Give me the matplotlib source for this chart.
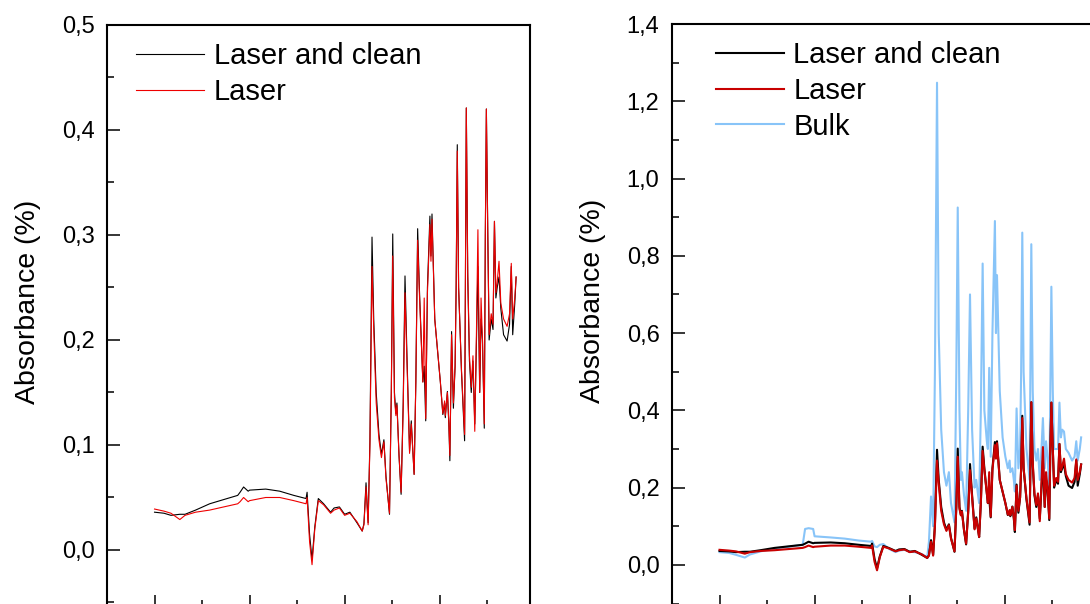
import matplotlib.pyplot as plt
from matplotlib.ticker import MultipleLocator

plt.rcParams["font.family"] = ["Liberation Sans", "DejaVu Sans"]

# spectra (x in wavenumber-like units)
WAVENUMBER = [
    1000, 1100, 1173, 1266, 1321, 1432, 1580, 1727, 1875, 1900,
    1937, 1985, 2000, 2170, 2317, 2465, 2594, 2605, 2631, 2657,
    2686, 2723, 2779, 2852, 2889, 2945, 3000, 3055, 3129, 3185,
    3203, 3225, 3247, 3266, 3288, 3306, 3332, 3361, 3387, 3413,
    3435, 3472, 3491, 3506, 3524, 3539, 3550, 3572, 3594, 3616,
    3635, 3657, 3683, 3701, 3720, 3731, 3749, 3768, 3786, 3812,
    3823, 3837, 3853, 3871, 3897, 3908, 3919, 3948, 3978, 4007,
    4033, 4052, 4059, 4081, 4096, 4107, 4125, 4144, 4162, 4173,
    4185, 4199, 4229, 4262, 4280, 4295, 4313, 4332, 4350, 4369,
    4387, 4402, 4421, 4435, 4450, 4469, 4480, 4491, 4506, 4520,
    4542, 4561, 4576, 4591, 4605, 4624, 4643, 4672, 4709, 4735,
    4753, 4768, 4790, 4804,
]

LASER_CLEAN = [
    0.036, 0.035, 0.033, 0.034, 0.034, 0.038, 0.044, 0.048, 0.052, 0.055,
    0.060, 0.056, 0.057, 0.058, 0.056, 0.052, 0.049, 0.055, 0.015, -0.009,
    0.022, 0.049, 0.044, 0.036, 0.040, 0.041, 0.034, 0.036, 0.026, 0.018,
    0.025, 0.064, 0.026, 0.104, 0.298, 0.220, 0.150, 0.110, 0.091, 0.105,
    0.070, 0.034, 0.150, 0.301, 0.150, 0.130, 0.140, 0.090, 0.053, 0.140,
    0.261, 0.180, 0.094, 0.123, 0.090, 0.072, 0.160, 0.306, 0.250, 0.186,
    0.160, 0.175, 0.123, 0.250, 0.318, 0.280, 0.320, 0.220, 0.189, 0.160,
    0.129, 0.140, 0.126, 0.151, 0.120, 0.085, 0.208, 0.135, 0.175, 0.250,
    0.386, 0.250, 0.170, 0.104, 0.421, 0.260, 0.180, 0.150, 0.180, 0.120,
    0.200, 0.270, 0.150, 0.220, 0.200, 0.116, 0.300, 0.420, 0.300, 0.200,
    0.220, 0.210, 0.313, 0.240, 0.250, 0.260, 0.230, 0.205, 0.199, 0.215,
    0.270, 0.205, 0.235, 0.260,
]

LASER = [
    0.039, 0.037, 0.035, 0.029, 0.033, 0.036, 0.038, 0.041, 0.044, 0.046,
    0.050, 0.046, 0.047, 0.050, 0.050, 0.047, 0.044, 0.050, 0.008, -0.014,
    0.020, 0.047, 0.043, 0.035, 0.038, 0.040, 0.033, 0.035, 0.027, 0.018,
    0.024, 0.060, 0.024, 0.100, 0.270, 0.210, 0.140, 0.105, 0.088, 0.103,
    0.068, 0.035, 0.150, 0.280, 0.145, 0.128, 0.138, 0.090, 0.055, 0.135,
    0.245, 0.175, 0.092, 0.120, 0.090, 0.072, 0.160, 0.295, 0.245, 0.185,
    0.160, 0.240, 0.125, 0.245, 0.310, 0.275, 0.315, 0.220, 0.190, 0.160,
    0.130, 0.142, 0.128, 0.150, 0.122, 0.090, 0.205, 0.140, 0.175, 0.250,
    0.380, 0.250, 0.172, 0.110, 0.421, 0.265, 0.185, 0.155, 0.185, 0.113,
    0.210, 0.305, 0.150, 0.240, 0.200, 0.120, 0.300, 0.420, 0.300, 0.205,
    0.225, 0.215, 0.313, 0.245, 0.255, 0.275, 0.235, 0.220, 0.213, 0.225,
    0.273, 0.220, 0.240, 0.260,
]

BULK = [
    0.033, 0.031, 0.026, 0.019, 0.027, 0.035, 0.042, 0.047, 0.052, 0.093,
    0.095, 0.093, 0.074, 0.071, 0.068, 0.063, 0.060, 0.062, 0.048, 0.046,
    0.052, 0.054, 0.042, 0.033, 0.037, 0.039, 0.034, 0.033, 0.028, 0.020,
    0.060, 0.177, 0.100, 0.500, 1.248, 0.600, 0.350, 0.240, 0.205, 0.240,
    0.160, 0.110, 0.500, 0.925, 0.400, 0.220, 0.240, 0.180, 0.140, 0.400,
    0.700, 0.350, 0.200, 0.220, 0.180, 0.160, 0.400, 0.780, 0.400, 0.320,
    0.300, 0.510, 0.280, 0.600, 0.890, 0.600, 0.750, 0.450, 0.330, 0.280,
    0.250, 0.270, 0.240, 0.250, 0.220, 0.190, 0.405, 0.250, 0.300, 0.500,
    0.860, 0.500, 0.300, 0.220, 0.830, 0.450, 0.300, 0.270, 0.300, 0.220,
    0.300, 0.380, 0.250, 0.320, 0.280, 0.200, 0.450, 0.720, 0.450, 0.300,
    0.300, 0.300, 0.420, 0.330, 0.350, 0.345, 0.300, 0.290, 0.270, 0.280,
    0.320, 0.270, 0.300, 0.330,
]

LEFT_YTICKS = [0.0, 0.1, 0.2, 0.3, 0.4, 0.5]
RIGHT_YTICKS = [0.0, 0.2, 0.4, 0.6, 0.8, 1.0, 1.2, 1.4]

BLACK = "#000000"
RED_THIN = "#ee0000"
RED_THICK = "#c80000"
BULK_BLUE = "#88c4f8"


def comma(v):
    return f"{v:.1f}".replace(".", ",")


def style_axis(ax, yticks, ymin, ymax, yminor):
    ax.set_xlim(500, 4950)
    ax.set_ylim(ymin, ymax)
    ax.xaxis.set_major_locator(MultipleLocator(1000))
    ax.xaxis.set_minor_locator(MultipleLocator(500))
    ax.set_yticks(yticks)
    ax.set_yticklabels([comma(v) for v in yticks])
    ax.yaxis.set_minor_locator(MultipleLocator(yminor))
    ax.tick_params(which="both", direction="in", width=1.1, labelsize=17,
                   labelbottom=False, top=False, right=False)
    ax.tick_params(which="major", length=9, pad=9)
    ax.tick_params(which="minor", length=5)
    for s in ax.spines.values():
        s.set_linewidth(1.5)
    ax.set_ylabel("Absorbance (%)", fontsize=20.5)
    ax.yaxis.set_label_coords(-0.155, 0.525)


def add_legend(ax, handles, labels, x0):
    ax.legend(handles, labels, loc="upper left", bbox_to_anchor=(x0, 0.99),
              frameon=False, fontsize=21, handlelength=2.33, handletextpad=0.34,
              labelspacing=0.26, borderaxespad=0)


fig = plt.figure(figsize=(10.9, 6.04), dpi=100)

# left panel
ax1 = fig.add_axes([107 / 1090, -3 / 604, 423 / 1090, 582 / 604])
l1, = ax1.plot(WAVENUMBER, LASER_CLEAN, color=BLACK, linewidth=0.8)
l2, = ax1.plot(WAVENUMBER, LASER, color=RED_THIN, linewidth=0.8)
style_axis(ax1, LEFT_YTICKS, -0.0543, 0.5, 0.05)
add_legend(ax1, [l1, l2], ["Laser and clean", "Laser"], 0.041)

# right panel
ax2 = fig.add_axes([672 / 1090, -3 / 604, 423 / 1090, 583 / 604])
b, = ax2.plot(WAVENUMBER, BULK, color=BULK_BLUE, linewidth=1.5, zorder=1)
k, = ax2.plot(WAVENUMBER, LASER_CLEAN, color=BLACK, linewidth=1.5, zorder=2)
r, = ax2.plot(WAVENUMBER, LASER, color=RED_THICK, linewidth=1.5, zorder=3)
style_axis(ax2, RIGHT_YTICKS, -0.109, 1.4, 0.1)
add_legend(ax2, [k, r, b], ["Laser and clean", "Laser", "Bulk"], 0.0755)

fig.savefig("out.png", dpi=100)
